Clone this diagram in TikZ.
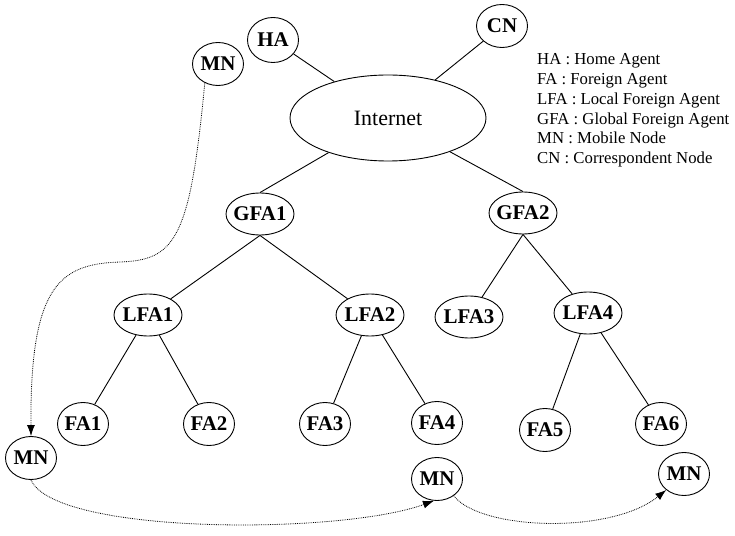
\documentclass[tikz,border=0pt]{standalone}
\usepackage{fontspec}
\setmainfont{Liberation Serif}
\usetikzlibrary{shapes.geometric,arrows.meta}

\tikzset{
  agent/.style={ellipse, draw, line width=0.9bp, inner xsep=-5bp, inner ysep=0bp,
                font=\fontsize{21}{23}\selectfont\bfseries},
  small/.style={minimum width=51bp, minimum height=43bp},
  mid/.style={minimum width=68bp, minimum height=42bp},
  link/.style={line width=0.9bp},
  handoff/.style={densely dotted, line width=0.8bp, -{Latex[length=11bp,width=8bp]}}
}

\begin{document}
\begin{tikzpicture}[x=1bp, y=-1bp]
    \useasboundingbox (0,0) rectangle (735,536);

    % Core network
    \node[agent, font=\fontsize{22}{24}\selectfont, minimum width=196bp, minimum height=86bp] (inet) at (388,118) {Internet};
    \node[agent, small, minimum height=45bp] (ha) at (273,40) {HA};
    \node[agent, small] (cn) at (502,26) {CN};
    \node[agent, small] (mnA) at (218,64) {MN};

    % Global and local foreign agents
    \node[agent, mid] (gfa1) at (260,214) {GFA1};
    \node[agent, mid] (gfa2) at (523,213) {GFA2};
    \node[agent, mid] (lfa1) at (148,315) {LFA1};
    \node[agent, mid] (lfa2) at (370,315) {LFA2};
    \node[agent, mid] (lfa3) at (469,317) {LFA3};
    \node[agent, mid] (lfa4) at (588,313) {LFA4};

    % Foreign agents
    \node[agent, small] (fa1) at (83,424) {FA1};
    \node[agent, small] (fa2) at (209,424) {FA2};
    \node[agent, small] (fa3) at (325,424) {FA3};
    \node[agent, small] (fa4) at (437,423) {FA4};
    \node[agent, small] (fa5) at (545,430) {FA5};
    \node[agent, small] (fa6) at (661,424) {FA6};

    % Mobile node positions
    \node[agent, small] (mnB) at (31,458) {MN};
    \node[agent, small] (mnC) at (437,479) {MN};
    \node[agent, small] (mnD) at (684,474) {MN};

    % Tree links
    \draw[link] (inet) -- (ha);
    \draw[link] (inet) -- (cn);
    \draw[link] (inet) -- (gfa1.north);
    \draw[link] (inet) -- (gfa2.north);
    \draw[link] (gfa1.south) -- (lfa1);
    \draw[link] (gfa1.south) -- (lfa2);
    \draw[link] (gfa2.south) -- (lfa3);
    \draw[link] (gfa2.south) -- (lfa4);
    \draw[link] (lfa1) -- (fa1);
    \draw[link] (lfa1) -- (fa2);
    \draw[link] (lfa2) -- (fa3);
    \draw[link] (lfa2) -- (fa4);
    \draw[link] (lfa4) -- (fa5);
    \draw[link] (lfa4) -- (fa6);

    % Movement of the mobile node
    \draw[handoff] (mnA.235) .. controls (190,240) and (175,260) .. (120,262)
                             .. controls (60,264) and (30,285) .. (mnB.north);
    \draw[handoff] (mnB.south) .. controls (55,535) and (340,535) .. (mnC.262);
    \draw[handoff] (mnC.315) .. controls (480,530) and (610,535) .. (mnD.222);

    % Legend
    \node[anchor=north west, inner sep=0pt, align=left, font=\fontsize{16.8}{20}\selectfont] (legend) at (537,53)
        {HA : Home Agent\\ FA : Foreign Agent\\ LFA : Local Foreign Agent\\ GFA : Global Foreign Agent\\ MN : Mobile Node\\ CN : Correspondent Node};

\end{tikzpicture}
\end{document}
